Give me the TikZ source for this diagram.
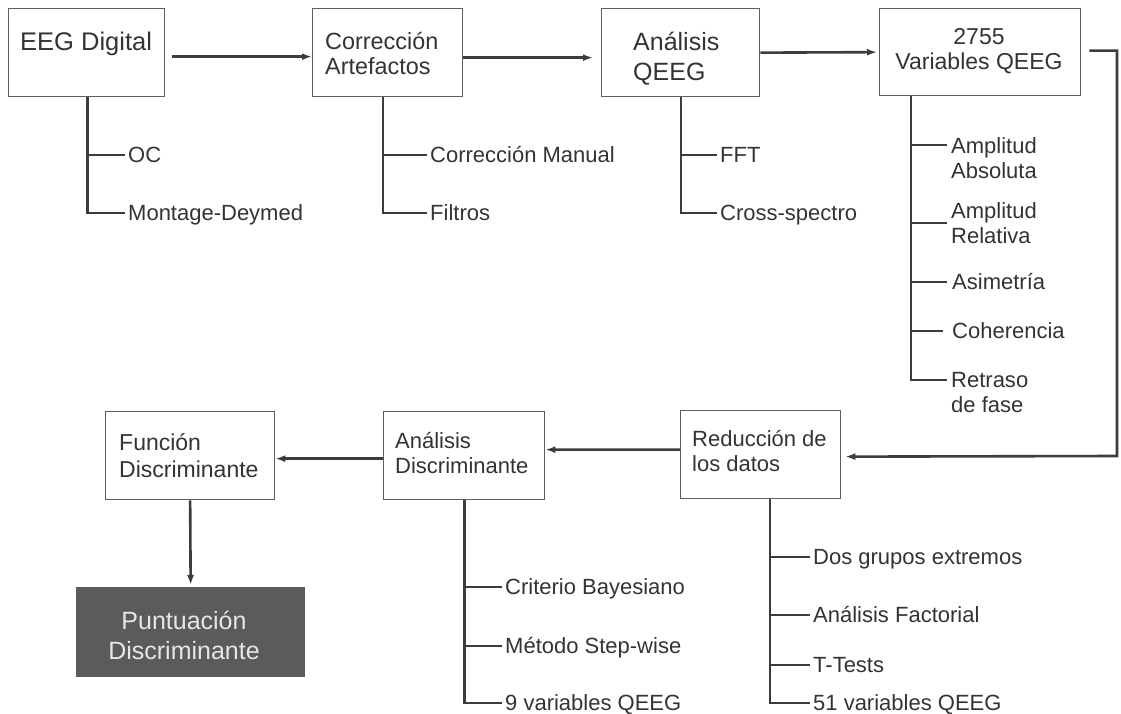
\documentclass[tikz,border=0pt]{standalone}
\usepackage{fontspec}
\setmainfont{Liberation Sans}
\usetikzlibrary{arrows.meta,calc}
\definecolor{ink}{HTML}{3C3C3C}
\definecolor{txtc}{HTML}{333333}
\definecolor{framec}{HTML}{5E5E5E}
\definecolor{darkfill}{HTML}{5B5B5B}
\definecolor{lighttxt}{HTML}{E6E6E6}
\newcommand{\fsz}[2]{\fontsize{#1bp}{#2bp}\selectfont}
\begin{document}
\begin{tikzpicture}[x=1bp,y=-1bp,
  box/.style={draw=framec, line width=1.3bp, anchor=north west, inner sep=0},
  ttl/.style={text=txtc, inner sep=0, anchor=north west, align=left},
  lbl/.style={text=txtc, inner xsep=3bp, inner ysep=0, anchor=west, font=\fsz{22}{25}, text height=15.7bp, text depth=0bp},
  mlbl/.style={text=txtc, inner sep=0, align=left, font=\fsz{22}{25}},
  tree/.style={draw=ink, line width=2.8bp},
  arr/.style={draw=ink, line width=2.6bp, -{Latex[length=10bp,width=7bp]}}]
\useasboundingbox (0,0) rectangle (1121,714);

% boxes
\node[box, minimum width=156bp, minimum height=88bp] (eeg) at (8,8) {};
\node[box, minimum width=150bp, minimum height=88bp] (cor) at (312,8) {};
\node[box, minimum width=158bp, minimum height=88bp] (ana) at (601,8) {};
\node[box, minimum width=201bp, minimum height=87bp] (var) at (879,8) {};
\node[box, minimum width=169bp, minimum height=88bp] (fun) at (105,411) {};
\node[box, minimum width=161bp, minimum height=88bp] (ad) at (383,411) {};
\node[box, minimum width=160bp, minimum height=88bp] (red) at (680,410) {};
\node[box, fill=darkfill, draw=darkfill, minimum width=228bp, minimum height=89bp] (punt) at (76,587) {};

% titles
\node[ttl, font=\fsz{25.5}{30}] (eegT) at (20,32) {EEG Digital};
\node[ttl, font=\fsz{23.4}{25}] (corT) at (325,32) {Corrección\\Artefactos};
\node[ttl, font=\fsz{25}{30}] (anaT) at (633,32) {Análisis\\QEEG};
\node[ttl, anchor=north, align=center, font=\fsz{23}{25}] (varT) at (979,28) {2755\\Variables QEEG};
\node[ttl, font=\fsz{23}{27}] (funT) at (119,433) {Función\\Discriminante};
\node[ttl, font=\fsz{22}{25}] (adT) at (395,432) {Análisis\\Discriminante};
\node[ttl, font=\fsz{22}{25}] (redT) at (692,430) {Reducción de\\los datos};
\node[ttl, anchor=north, align=center, text=lighttxt, font=\fsz{25}{30}] (puntT) at (184,611) {Puntuación\\Discriminante};

% main flow
\draw[arr] ([xshift=7bp,yshift=-4bp]eeg.east) -- ([yshift=-4bp]cor.west);
\draw[arr] ([yshift=-5bp]cor.east) -- ([xshift=-8bp,yshift=-5bp]ana.west);
\draw[arr] (ana.east) -- ([xshift=-2bp]var.west);
\coordinate (bend) at (1117,456);
\draw[arr] ([xshift=8bp,yshift=1.5bp]var.east) -| (bend) -- ([xshift=4bp,yshift=-2bp]red.east);
\draw[arr] ([yshift=5bp]red.west) -- ([yshift=6bp]ad.east);
\draw[arr] ([yshift=-3bp]ad.west) -- ([yshift=-3bp]fun.east);
\draw[arr] (fun.south) -- ([yshift=2bp]punt.north);

% EEG Digital tree
\node[lbl] (oc) at (125,155) {OC};
\node[lbl] (md) at (125,213) {Montage-Deymed};
\coordinate (t1) at ([xshift=1bp]eeg.south);
\draw[tree] (t1) |- (md.west);
\draw[tree] (oc.west -| t1) -- (oc.west);

% Correccion tree
\node[lbl] (cm) at (427,155) {Corrección Manual};
\node[lbl] (fi) at (427,213) {Filtros};
\coordinate (t2) at ([xshift=71bp]cor.south west);
\draw[tree] (t2) |- (fi.west);
\draw[tree] (cm.west -| t2) -- (cm.west);

% Analisis QEEG tree
\node[lbl] (ff) at (717,155) {FFT};
\node[lbl] (cs) at (717,213) {Cross-spectro};
\coordinate (t3) at ([xshift=80bp]ana.south west);
\draw[tree] (t3) |- (cs.west);
\draw[tree] (ff.west -| t3) -- (ff.west);

% 2755 tree
\node[mlbl, anchor=north west] (aa) at (951,137) {Amplitud\\Absoluta};
\node[mlbl, anchor=west, inner xsep=4bp] (ar) at (947,223) {Amplitud\\Relativa};
\node[lbl, inner xsep=5bp] (as) at (947,282) {Asimetría};
\node[lbl, inner xsep=9bp] (co) at (943,331) {Coherencia};
\node[mlbl, anchor=north west] (rf) at (951,372) {Retraso\\de fase};
\coordinate (t4) at ([xshift=32bp]var.south west);
\coordinate (aab) at ($(aa.north west)+(-4,8)$);
\coordinate (rfb) at ($(rf.north west)+(-4,8)$);
\draw[tree] (t4) |- (rfb);
\draw[tree] (aab -| t4) -- (aab);
\draw[tree] (ar.west -| t4) -- (ar.west);
\draw[tree] (as.west -| t4) -- (as.west);
\draw[tree] (co.west -| t4) -- (co.west);

% Analisis Discriminante tree
\node[lbl] (cb) at (502,587) {Criterio Bayesiano};
\node[lbl] (ms) at (502,646) {Método Step-wise};
\node[lbl] (nv) at (502,703) {9 variables QEEG};
\coordinate (t5) at (ad.south);
\draw[tree] (t5) |- (nv.west);
\draw[tree] (cb.west -| t5) -- (cb.west);
\draw[tree] (ms.west -| t5) -- (ms.west);

% Reduccion tree
\node[lbl] (dg) at (810,557) {Dos grupos extremos};
\node[lbl] (af) at (810,615) {Análisis Factorial};
\node[lbl] (tt) at (810,665) {T-Tests};
\node[lbl] (fv) at (810,703) {51 variables QEEG};
\coordinate (t6) at ([xshift=90bp]red.south west);
\draw[tree] (t6) |- (fv.west);
\draw[tree] (dg.west -| t6) -- (dg.west);
\draw[tree] (af.west -| t6) -- (af.west);
\draw[tree] (tt.west -| t6) -- (tt.west);
\end{tikzpicture}
\end{document}
